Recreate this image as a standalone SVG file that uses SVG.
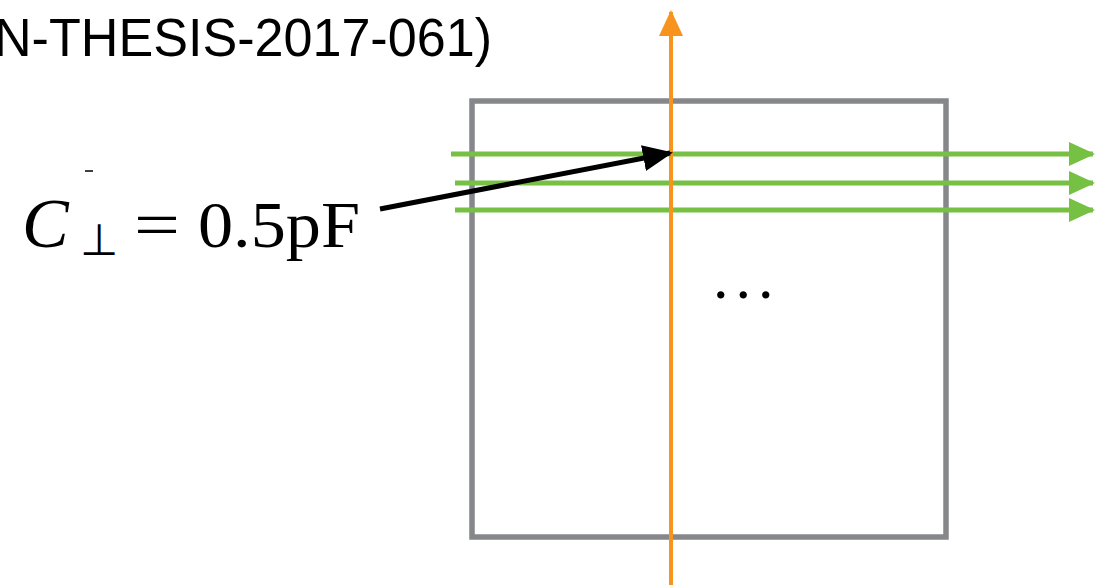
<svg xmlns="http://www.w3.org/2000/svg" width="1095" height="585" viewBox="0 0 1095 585">
<style>
.title{font-family:"Liberation Sans",Arial,sans-serif;font-size:53px;fill:#000}
.math{font-family:"Liberation Serif","Times New Roman",serif;fill:#000}
.green{stroke:#76c043;stroke-width:5;fill:none}
</style>
<defs>
<marker id="ag" markerUnits="userSpaceOnUse" markerWidth="26" markerHeight="26" refX="24" refY="13" orient="auto"><path d="M0,1 L26,13 L0,25 Z" fill="#76c043"/></marker>
<marker id="ao" markerUnits="userSpaceOnUse" markerWidth="26" markerHeight="26" refX="24" refY="13" orient="auto"><path d="M0,1 L26,13 L0,25 Z" fill="#f7941d"/></marker>
<marker id="ab" markerUnits="userSpaceOnUse" markerWidth="30" markerHeight="30" refX="27" refY="15" orient="auto"><path d="M0,2 L30,15 L0,28 Z" fill="#000"/></marker>
</defs>
<rect width="1095" height="585" fill="#fff"/>
<text class="title" x="-6" y="56" textLength="498" lengthAdjust="spacingAndGlyphs">N-THESIS-2017-061)</text>
<g id="box"><rect x="472" y="101" width="474" height="436" fill="none" stroke="#85878b" stroke-width="5.5"/></g>
<g id="dots"><text class="math" x="713" y="298" font-size="62" letter-spacing="7">...</text></g>
<g id="label">
<line x1="85" y1="171" x2="93" y2="171" stroke="#000" stroke-width="1.5"/>
<text class="math" y="247" font-size="66"><tspan x="22" font-style="italic" font-size="70">C</tspan><tspan x="80" font-size="44" dy="8">⊥</tspan><tspan x="134" dy="-8" textLength="46" lengthAdjust="spacingAndGlyphs">=</tspan><tspan x="198" textLength="162" lengthAdjust="spacingAndGlyphs">0.5pF</tspan></text>
</g>
<g id="connectors">
<line class="green" x1="451" y1="154" x2="1093" y2="154" marker-end="url(#ag)"/>
<line class="green" x1="455" y1="183" x2="1093" y2="183" marker-end="url(#ag)"/>
<line class="green" x1="455" y1="210" x2="1093" y2="210" marker-end="url(#ag)"/>
<line x1="671" y1="585" x2="671" y2="12" stroke="#f7941d" stroke-width="4" marker-end="url(#ao)"/>
<line x1="380" y1="209" x2="670" y2="153" stroke="#000" stroke-width="5" marker-end="url(#ab)"/>
</g>
</svg>
